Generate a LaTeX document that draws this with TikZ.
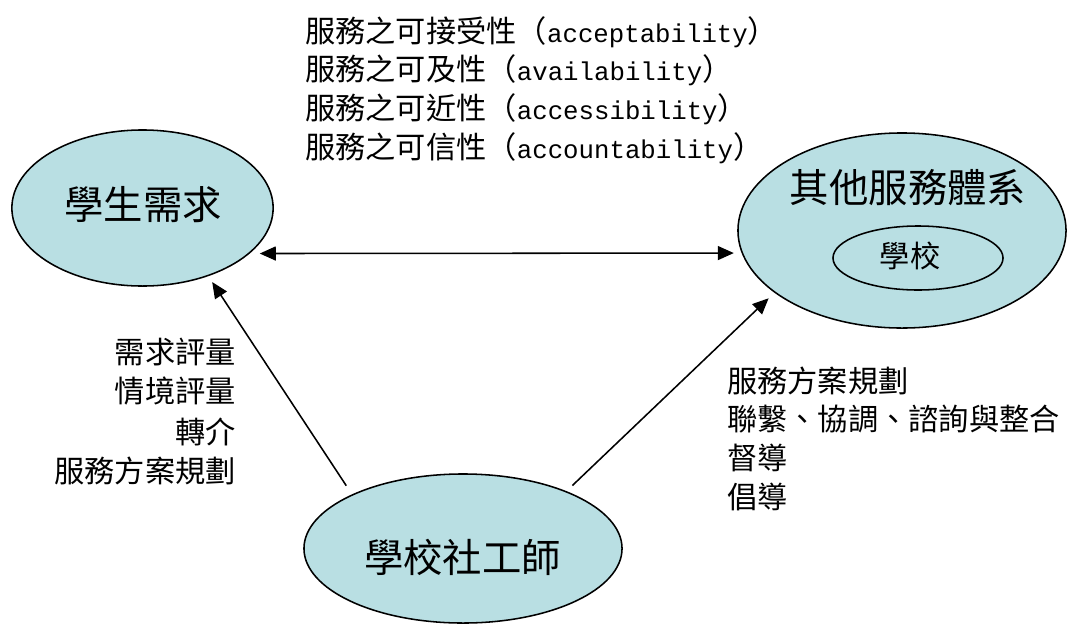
\documentclass[tikz,border=0pt]{standalone}
\usepackage{fontspec}
\setmainfont{Noto Sans CJK TC}
\newfontfamily\latinmono{Liberation Mono}
\usetikzlibrary{shapes.geometric}
\usetikzlibrary{arrows.meta}
\definecolor{bubblefill}{RGB}{185,223,227}
\newcommand{\engword}[1]{{\latinmono\fontsize{18.3pt}{20pt}\selectfont #1}}

\begin{document}
\begin{tikzpicture}[x=0.025cm, y=-0.025cm,
    >={Triangle[length=0.4cm, width=0.35cm]},
    bubble/.style={ellipse, draw, line width=1.1pt, fill=bubblefill, inner sep=0pt},
    bigtext/.style={font=\fontsize{28pt}{32pt}\selectfont, inner sep=0pt},
    note/.style={font=\fontsize{21.5pt}{26pt}\selectfont, inner sep=0pt},
    link/.style={line width=1.1pt}]
      \useasboundingbox (0, 0) rectangle (1070, 625);

      \node [bubble, minimum width=6.53cm, minimum height=3.9cm] (student) at (142.5, 208) {};
      \node [bigtext] (studentlbl) at (143, 205) {學生需求};

      \node [bubble, minimum width=8.2cm, minimum height=4.875cm] (other) at (902, 230.5) {};
      \node [bigtext] (otherlbl) at (908, 188) {其他服務體系};
      \node [bubble, minimum width=4.25cm, minimum height=1.6cm] (school) at (918, 258) {};
      \node [note] (schoollbl) at (910, 256) {學校};

      \node [bubble, minimum width=7.95cm, minimum height=3.725cm] (worker) at (463, 548.5) {};
      \node [bigtext] (workerlbl) at (462.5, 557) {學校社工師};

      \node [note, anchor=base west] (accept) at (305, 42) {服務之可接受性（\engword{acceptability}）};
      \node [note, anchor=base west] (avail) at (305, 80) {服務之可及性（\engword{availability}）};
      \node [note, anchor=base west] (access) at (305, 119) {服務之可近性（\engword{accessibility}）};
      \node [note, anchor=base west] (account) at (305, 158) {服務之可信性（\engword{accountability}）};

      \node [note, anchor=base east] (needs) at (236, 363) {需求評量};
      \node [note, anchor=base east] (context) at (236, 402) {情境評量};
      \node [note, anchor=base east] (referral) at (236, 443) {轉介};
      \node [note, anchor=base east] (planleft) at (236, 482) {服務方案規劃};

      \node [note, anchor=base west] (planright) at (727, 392) {服務方案規劃};
      \node [note, anchor=base west] (linking) at (727, 430) {聯繫、協調、諮詢與整合};
      \node [note, anchor=base west] (supervise) at (727, 469) {督導};
      \node [note, anchor=base west] (advocate) at (727, 508) {倡導};

      \draw [link, <->, shorten <=0.25cm, shorten >=0.195cm] (student.-23.6) -- (other.188.4);
      \draw [link, ->, shorten <=0.26cm, shorten >=0.175cm] (worker.154) -- (student.-46.6);
      \draw [link, ->, shorten <=0.205cm, shorten >=0.2cm] (worker.29) -- (other.206.7);
    \end{tikzpicture}
\end{document}
